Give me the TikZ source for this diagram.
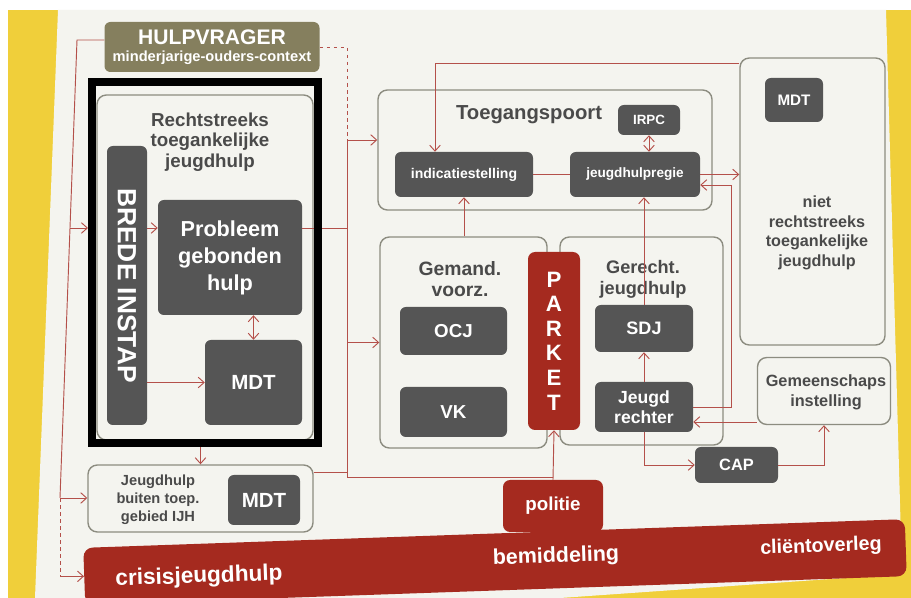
\documentclass[tikz,border=0pt]{standalone}
\usepackage{fontspec}
\setmainfont{Liberation Sans}
\usetikzlibrary{arrows.meta}
\pgfdeclarelayer{front}
\pgfsetlayers{main,front}

\definecolor{cardwhite}{HTML}{F4F4EF}
\definecolor{posteryellow}{HTML}{F0CF3A}
\definecolor{boxgrey}{HTML}{555555}
\definecolor{rimgrey}{HTML}{8C8C80}
\definecolor{olivebox}{HTML}{857F5E}
\definecolor{parketred}{HTML}{A52A1F}
\definecolor{wirered}{HTML}{B4504A}
\definecolor{labelgrey}{HTML}{4A4A4A}

\newcommand{\setfs}[2]{\fontsize{#1}{#2}\selectfont}

\tikzset{
  boxsize/.style 2 args={minimum width=#1*0.03cm, minimum height=#2*0.03cm},
  darkbox/.style={fill=boxgrey, rounded corners=5pt, inner sep=0pt, text=white, font=\bfseries, align=center},
  redbox/.style={fill=parketred, rounded corners=6pt, inner sep=0pt, text=white, font=\bfseries, align=center},
  container/.style={draw=rimgrey, line width=1.2pt, rounded corners=8pt, fill=cardwhite, inner sep=0pt},
  heading/.style={text=labelgrey, font=\bfseries, align=center, inner sep=0pt},
  wire/.style={draw=wirered, line width=0.8pt},
}

\begin{document}
\begin{tikzpicture}[x=0.03cm, y=-0.03cm, >={Straight Barb[length=5pt,width=9pt]}]
  \useasboundingbox (0,0) rectangle (911,598);
  % Photo background
  \fill[white] (0,0) rectangle (911,598);
  \fill[posteryellow] (8,10) rectangle (911,598);
  \fill[cardwhite] (58,10) -- (886,10) -- (902,574) -- (560,598) -- (35,598) -- cycle;

  % Hulpvrager
  \node[darkbox, fill=olivebox, boxsize={215}{50}] (hulpvrager) at (212,47)
    {\setfs{18}{16}HULPVRAGER\\[2.5pt]\setfs{12.5}{13}minderjarige-ouders-context};

  % Rechtstreeks toegankelijke jeugdhulp
  \node[container, boxsize={216}{345}] (rtj) at (205,267.5) {};
  \node[heading, font=\bfseries\setfs{16}{17.5}] (rtjlabel) at (210,142) {Rechtstreeks\\toegankelijke\\jeugdhulp};
  \node[darkbox, boxsize={279}{40}, font=\bfseries\setfs{22.5}{24}, rotate=-90] (brede) at (127,285.5) {BREDE INSTAP};
  \node[darkbox, boxsize={144}{115}, font=\bfseries\setfs{18.5}{23}] (pgh) at (230,257.5) {Probleem\\gebonden\\hulp};
  \node[darkbox, boxsize={97}{85}, font=\bfseries\setfs{17.5}{18}] (mdtrtj) at (253.5,382.5) {MDT};
  \begin{pgfonlayer}{front}
    \node[draw=black, line width=0.24cm, boxsize={226}{361}, inner sep=0pt] (frame) at (205,262.5) {};
  \end{pgfonlayer}

  % Jeugdhulp buiten toepassingsgebied
  \node[container, boxsize={225}{67}] (jbt) at (200.5,498.5) {};
  \node[heading, font=\bfseries\setfs{12.5}{15.5}] (jbtlabel) at (158,500) {Jeugdhulp\\buiten toep.\\gebied IJH};
  \node[darkbox, boxsize={72}{50}, font=\bfseries\setfs{17.5}{18}] (mdtjbt) at (264,500) {MDT};

  % Toegangspoort
  \node[container, boxsize={334}{120}] (toeg) at (545,150) {};
  \node[heading, font=\bfseries\setfs{17.3}{18}] (toeglabel) at (529,115) {Toegangspoort};
  \node[darkbox, boxsize={62}{30}, font=\bfseries\setfs{11.4}{12}] (irpc) at (649,120) {IRPC};
  \node[darkbox, boxsize={138}{45}, font=\bfseries\setfs{12}{13}] (ind) at (464,174.5) {indicatiestelling};
  \node[darkbox, boxsize={130}{45}, font=\bfseries\setfs{11.6}{13}] (jhr) at (635,174.5) {jeugdhulpregie};

  % Niet rechtstreeks toegankelijke jeugdhulp
  \node[container, boxsize={145}{287}] (niet) at (812.5,201.5) {};
  \node[darkbox, boxsize={58}{44}, font=\bfseries\setfs{13}{14}] (mdtniet) at (794,100) {MDT};
  \node[heading, font=\bfseries\setfs{13.8}{16.6}] (nietlabel) at (817,233) {niet\\rechtstreeks\\toegankelijke\\jeugdhulp};
  \node[container, boxsize={133}{67}] (gem) at (824,391) {};
  \node[heading, font=\bfseries\setfs{13.9}{17}] (gemlabel) at (826,392) {Gemeenschaps\\instelling};

  % Gemandateerde voorzieningen
  \node[container, boxsize={167}{211}] (gmv) at (463.5,342.5) {};
  \node[heading, font=\bfseries\setfs{16.5}{18}] (gmvlabel) at (460,279) {Gemand.\\voorz.};
  \node[darkbox, boxsize={107}{48}, font=\bfseries\setfs{16}{17}] (ocj) at (453.5,331) {OCJ};
  \node[darkbox, boxsize={107}{50}, font=\bfseries\setfs{16}{17}] (vk) at (453.5,412) {VK};

  % Gerechtelijke jeugdhulp
  \node[container, boxsize={163}{208}] (gjh) at (641.5,341) {};
  \node[heading, font=\bfseries\setfs{15.5}{18}] (gjhlabel) at (643,279) {Gerecht.\\jeugdhulp};
  \node[darkbox, boxsize={98}{47}, font=\bfseries\setfs{15.4}{16}] (sdj) at (644,328.5) {SDJ};
  \node[darkbox, boxsize={98}{50}, font=\bfseries\setfs{15}{17}] (jr) at (644,407) {Jeugd\\rechter};
  \node[darkbox, boxsize={83}{36}, font=\bfseries\setfs{14}{15}] (cap) at (736.5,465) {CAP};

  % Parket, politie
  \node[redbox, boxsize={52}{178}, font=\bfseries\setfs{19}{21}] (parket) at (554,341) {P\\A\\R\\K\\E\\T};
  \node[redbox, boxsize={100}{52}, font=\bfseries\setfs{16}{17}] (politie) at (553,506) {politie};

  % Crisisbalk
  \node[redbox, rounded corners=8pt, boxsize={822}{57}, rotate=2] (crisisbar) at (495,562) {};
  \node[text=white, font=\bfseries\setfs{19.3}{20}, rotate=2, inner sep=0pt] (crisislabel) at (199,577) {crisisjeugdhulp};
  \node[text=white, font=\bfseries\setfs{18.3}{19}, rotate=2, inner sep=0pt] (bemlabel) at (556,557) {bemiddeling};
  \node[text=white, font=\bfseries\setfs{16.8}{18}, rotate=2, inner sep=0pt] (clientlabel) at (821,547) {cliëntoverleg};

  % Verbindingen links
  \coordinate (lefttop) at (77,40);
  \coordinate (leftmid) at (70,228);
  \coordinate (leftbot) at (60,498);
  \coordinate (trunktop) at (347,140);
  \coordinate (trunkbot) at (347,477);
  \draw[wire] (hulpvrager.west |- lefttop) -- (lefttop) -- (leftmid) -- (leftbot);
  \draw[wire, ->] (leftbot) -- (leftbot -| jbt.west);
  \draw[wire, dashed] (leftbot) -- (leftbot |- crisisbar.west);
  \draw[wire, ->] (leftbot |- crisisbar.west) -- (crisisbar.west);
  \draw[wire, ->] (leftmid) -- (leftmid -| frame.west);
  \draw[wire, ->] (brede.north |- leftmid) -- (pgh.west |- leftmid);
  \draw[wire, ->] (brede.north |- mdtrtj.west) -- (mdtrtj.west);
  \draw[wire, <->] (pgh.south -| mdtrtj.north) -- (mdtrtj.north);
  \draw[wire, ->] (frame.south -| jbt.north) -- (jbt.north);

  % Verbindingen midden
  \draw[wire, dashed] (hulpvrager.east) -- (hulpvrager.east -| trunktop) -- (trunktop);
  \draw[wire] (pgh.east |- leftmid) -- (leftmid -| trunktop);
  \draw[wire] (trunktop) -- (trunkbot) -- (trunkbot -| politie.north);
  \draw[wire] (jbt.east |- 0,472) -- (trunktop |- 0,472);
  \draw[wire, ->] (trunktop) -- (trunktop -| toeg.west);
  \draw[wire, ->] (trunktop |- gmv.west) -- (gmv.west);
  \draw[wire, ->] (politie.north) -- (parket.south);
  \draw[wire, ->] (ind.south |- gmv.north) -- (ind.south);
  \draw[wire] (ind.east) -- (jhr.west);
  \draw[wire, <->] (irpc.south) -- (irpc.south |- jhr.north);

  % Verbindingen rechts
  \coordinate (topbend) at (435,63);
  \coordinate (loopbend) at (731,185);
  \draw[wire, ->] (niet.west |- topbend) -- (topbend) -- (topbend |- ind.north);
  \draw[wire, ->] (jhr.east) -- (jhr.east -| niet.west);
  \draw[wire, ->] (jr.east) -- (jr.east -| loopbend) -- (loopbend) -- (loopbend -| jhr.east);
  \draw[wire, ->] (sdj.north) -- (sdj.north |- jhr.south);
  \draw[wire, ->] (jr.north) -- (sdj.south);
  \draw[wire, ->] (gem.west |- 0,422) -- (jr.east |- 0,422);
  \draw[wire, ->] (jr.south) -- (jr.south |- cap.west) -- (cap.west);
  \draw[wire, ->] (cap.east) -- (cap.east -| gem.south) -- (gem.south);
\end{tikzpicture}
\end{document}
